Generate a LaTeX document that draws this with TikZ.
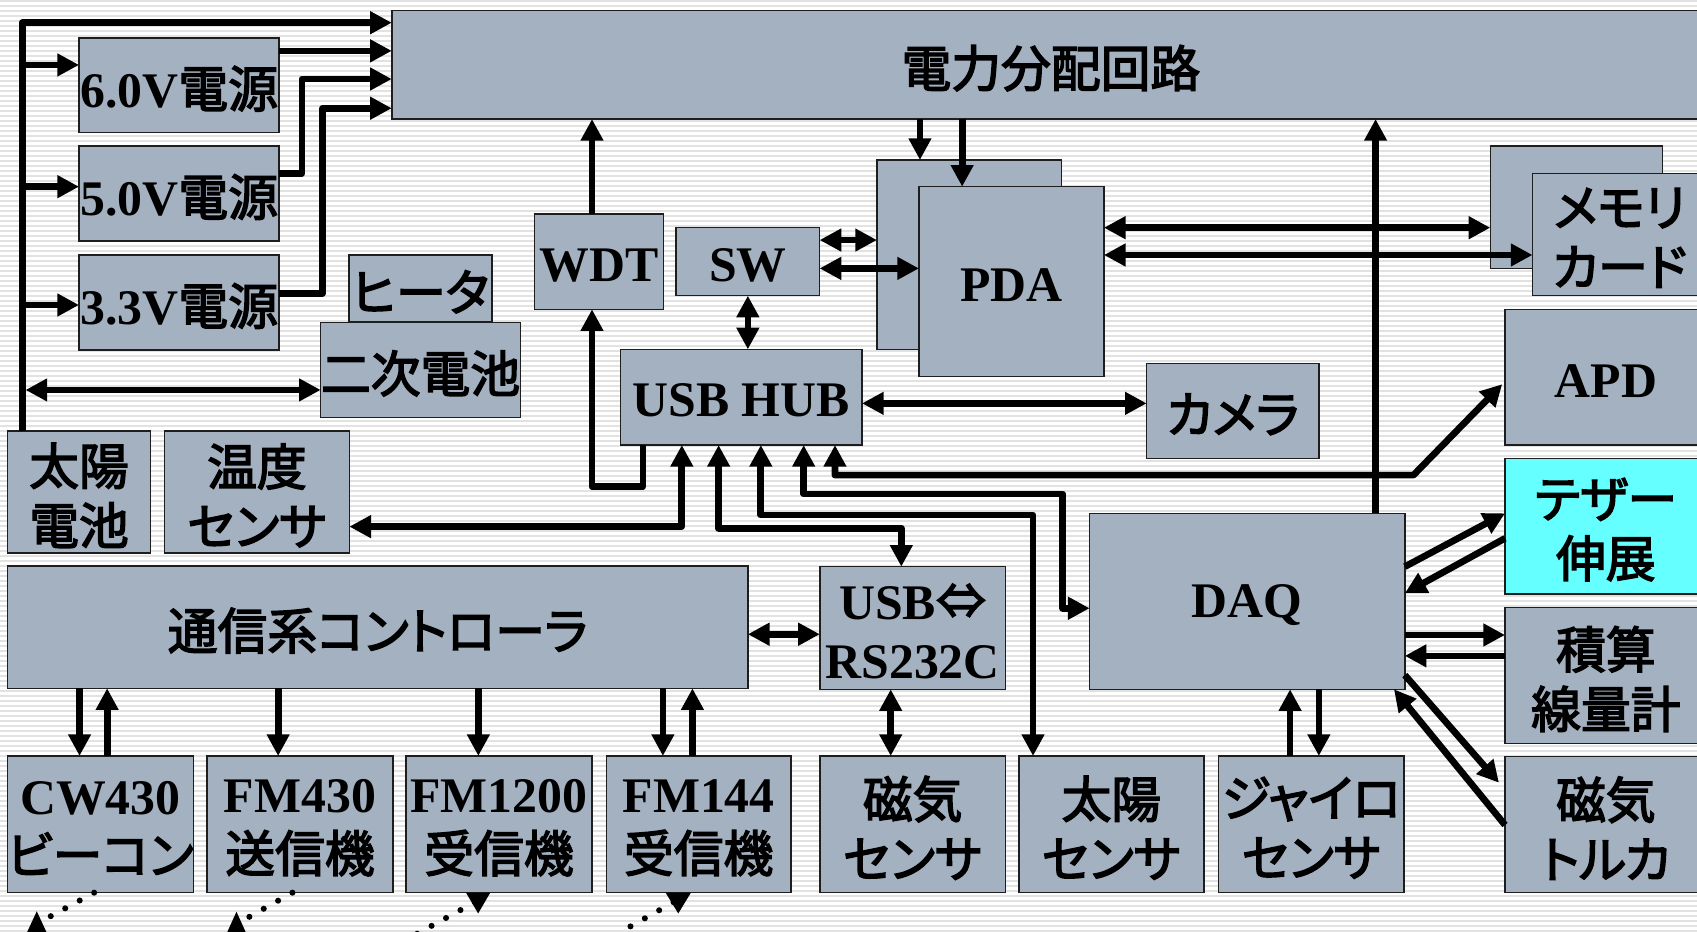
\documentclass[tikz,border=0pt]{standalone}
\usepackage{fontspec}
\setmainfont{Liberation Serif}
\newfontfamily\jp[RawFeature=+palt,FakeBold=3]{Noto Sans CJK JP}
\usetikzlibrary{arrows.meta}
\definecolor{boxc}{RGB}{163,177,192}
\definecolor{tcyan}{RGB}{102,255,255}
\definecolor{stc}{RGB}{226,226,226}
\definecolor{edgec}{RGB}{30,30,30}
\newcommand\J[1]{{\jp\mdseries #1}}
\newcommand\bx[7][]{%
  \node[bx,#1,minimum width={((#5)-(#3))*0.5pt},minimum height={((#6)-(#4))*0.5pt}] (#2) at ({((#3)+(#5))/2},{((#4)+(#6))/2}) {};
  \node[txt] at ([yshift=-1.6pt]#2.center) {#7};}
\tikzset{
  bx/.style={draw=edgec,line width=0.7pt,fill=boxc,inner sep=0pt,outer sep=0pt},
  txt/.style={inner sep=0pt,align=center,font=\fontsize{23}{27.5}\selectfont\bfseries},
  ar/.style={line width=3.1pt,line join=round,-{Triangle[length=10pt,width=10pt]}},
  dar/.style={line width=3.1pt,line join=round,{Triangle[length=10pt,width=10pt]}-{Triangle[length=10pt,width=10pt]}},
  dots/.style={line width=2.8pt,line cap=round,dash pattern=on 0pt off 7.6pt},
}
\begin{document}
\begin{tikzpicture}[x=0.5pt,y=-0.5pt]
\useasboundingbox (0,0) rectangle (1568,861);
\clip (0,0) rectangle (1568,861);
% background stripes
\fill[white] (0,0) rectangle (1568,861);
\foreach \k in {0,...,187} {\fill[stc] (0,\k*4.62) rectangle (1568,\k*4.62+1.9);}
% boxes
\bx{pwr}{362}{9.5}{1580}{110}{\J{電力分配回路}}
\bx{v6}{73}{35}{258}{122.5}{6.0V\J{電源}}
\bx{v5}{73}{135}{258}{222.7}{5.0V\J{電源}}
\bx{v3}{73}{235.6}{258}{323.4}{3.3V\J{電源}}
\bx{heat}{322.5}{235.6}{454.4}{297.2}{\J{ヒータ}}
\bx{batt}{296.3}{298}{480.9}{385.6}{\J{二次電池}}
\bx{solar}{7}{398}{139}{511}{\J{太陽}\\\J{電池}}
\bx{temp}{152}{398}{322.8}{511}{\J{温度}\\\J{センサ}}
\bx{comm}{7}{523}{691}{636}{\J{通信系コントローラ}}
\bx{cw}{7}{698.5}{178.6}{824.8}{CW430\\\J{ビーコン}}
\bx{fmt}{191.3}{698.5}{363.1}{824.8}{FM430\\\J{送信機}}
\bx{fmr}{375.2}{698.5}{547}{824.8}{FM1200\\\J{受信機}}
\bx{fmv}{560.2}{698.5}{730.9}{824.8}{FM144\\\J{受信機}}
\bx{conv}{757.5}{523.6}{929}{636.9}{USB\J{⇔}\\RS232C}
\bx{mag}{757.5}{698.5}{929}{824.8}{\J{磁気}\\\J{センサ}}
\bx{sun}{941.3}{698.5}{1112.5}{824.8}{\J{太陽}\\\J{センサ}}
\bx{gyro}{1126}{698.5}{1297.4}{824.8}{\J{ジャイロ}\\\J{センサ}}
\bx{wdt}{493.8}{197.7}{613}{285.8}{WDT}
\bx{sw}{624.6}{210.4}{757.3}{273.2}{SW}
\bx{hub}{573.4}{322.8}{796.5}{411.2}{USB HUB}
\bx{pdab}{810.3}{147.8}{980.7}{322.8}{}
\bx{pda}{849.1}{172.5}{1020}{348}{PDA}
\bx{cam}{1059.5}{335.7}{1218.6}{423.5}{\J{カメラ}}
\bx{daq}{1006.8}{474.3}{1298}{636.9}{DAQ}
\bx{memb}{1377}{135}{1536.2}{247.9}{}
\bx{mem}{1416}{160.1}{1577}{273.2}{\J{メモリ}\\\J{カード}}
\bx{apd}{1390.6}{285.8}{1577}{411.2}{APD}
\bx[fill=tcyan]{teth}{1390.6}{423.5}{1577}{548.8}{\J{テザー}\\\J{伸展}}
\bx{dose}{1390.6}{561.5}{1577}{686.8}{\J{積算}\\\J{線量計}}
\bx{mtq}{1390.6}{699}{1577}{824.8}{\J{磁気}\\\J{トルカ}}
% power bus
\draw[ar] (solar.north -| 20.5,0) |- (pwr.west |- 0,21);
\draw[ar] (20.5,60) -- (v6.west |- 0,60);
\draw[ar] (20.5,172.5) -- (v5.west |- 0,172.5);
\draw[ar] (20.5,281.8) -- (v3.west |- 0,281.8);
\draw[dar] (23.6,360.3) -- (batt.west |- 0,360.3);
\draw[ar] (v6.east |- 0,47) -- (pwr.west |- 0,47);
\draw[ar] (v5.east |- 0,160) -| (279,73) -- (pwr.west |- 0,73);
\draw[ar] (v3.east |- 0,271) -| (298,100) -- (pwr.west |- 0,100);
% WDT / SW / PDA
\draw[ar] (wdt.north -| 547,0) -- (pwr.south -| 547,0);
\draw[ar] (hub.south -| 594,0) |- (547,449.7) -- (wdt.south -| 547,0);
\draw[dar] (sw.south -| 691,0) -- (hub.north -| 691,0);
\draw[dar] (sw.east |- 0,221.8) -- (pdab.west |- 0,221.8);
\draw[dar] (sw.east |- 0,248) -- (pda.west |- 0,248);
\draw[ar] (pwr.south -| 850,0) -- (pdab.north -| 850,0);
\draw[ar] (pwr.south -| 889,0) -- (pda.north -| 889,0);
\draw[dar] (pda.east |- 0,210.4) -- (memb.west |- 0,210.4);
\draw[dar] (pda.east |- 0,235.6) -- (mem.west |- 0,235.6);
\draw[dar] (hub.east |- 0,372.7) -- (cam.west |- 0,372.7);
% hub lines
\draw[dar] (hub.south -| 630,0) |- (temp.east |- 0,486.6);
\draw[dar] (hub.south -| 664,0) |- (832.8,488) -- (conv.north -| 832.8,0);
\draw[dar] (hub.south -| 703,0) |- (954.5,475.8) -- (sun.north -| 954.5,0);
\draw[dar] (hub.south -| 742.6,0) |- (982,456.4) |- (daq.west |- 0,562);
\draw[dar] (hub.south -| 771.5,0) |- (1306,439) -- (1388,355);
\draw[ar] (daq.north -| 1271,0) -- (pwr.south -| 1271,0);
% comm
\draw[dar] (comm.east |- 0,586) -- (conv.west |- 0,586);
\draw[dar] (conv.south -| 823,0) -- (mag.north -| 823,0);
\draw[ar] (comm.south -| 73.5,0) -- (cw.north -| 73.5,0);
\draw[ar] (cw.north -| 99,0) -- (comm.south -| 99,0);
\draw[ar] (comm.south -| 257,0) -- (fmt.north -| 257,0);
\draw[ar] (comm.south -| 442,0) -- (fmr.north -| 442,0);
\draw[ar] (comm.south -| 612.5,0) -- (fmv.north -| 612.5,0);
\draw[ar] (fmv.north -| 639.8,0) -- (comm.south -| 639.8,0);
% DAQ
\draw[ar] (gyro.north -| 1192,0) -- (daq.south -| 1192,0);
\draw[ar] (daq.south -| 1218.6,0) -- (gyro.north -| 1218.6,0);
\draw[ar] (daq.east |- 0,523.6) -- (teth.west |- 0,474.3);
\draw[ar] (teth.west |- 0,497.4) -- (daq.east |- 0,548.2);
\draw[ar] (daq.east |- 0,586.7) -- (dose.west |- 0,586.7);
\draw[ar] (dose.west |- 0,606) -- (daq.east |- 0,606);
\draw[ar] (daq.east |- 0,623.7) -- (1385,723.2);
\draw[ar] (mtq.west |- 0,762.3) -- (daq.south -| 1288,0);
% antenna links
\coordinate (a1) at (34,853.5);
\coordinate (a2) at (219,853.5);
\coordinate (a3) at (385,863);
\coordinate (a4) at (570,863);
\draw[dots] (cw.south -| 87,0) -- (a1);
\fill (34,842) -- (21,870) -- (47,870) -- cycle;
\draw[dots] (fmt.south -| 270.2,0) -- (a2);
\fill (218.5,842.4) -- (206,870) -- (231,870) -- cycle;
\draw[dots] (438.8,833.6) -- (a3);
\fill (430.6,824.8) -- (453,824.8) -- (441.8,844) -- cycle;
\draw[dots] (622.3,833.6) -- (a4);
\fill (615,824.8) -- (638.4,824.8) -- (626.7,844) -- cycle;
\end{tikzpicture}
\end{document}
